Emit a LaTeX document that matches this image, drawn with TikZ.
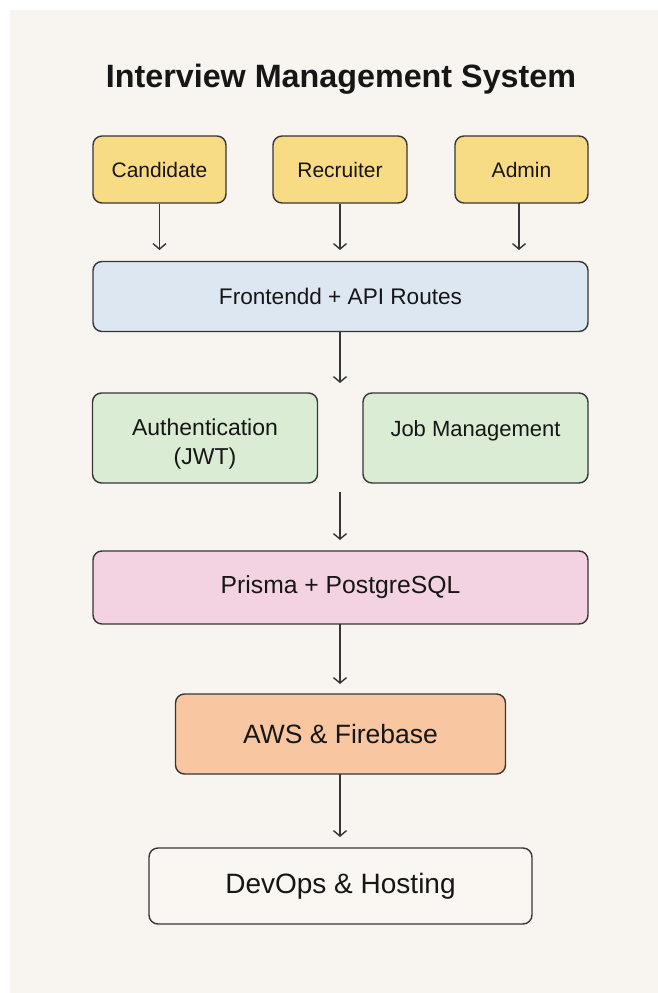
\documentclass[tikz,border=0pt]{standalone}
\usepackage{fontspec}
\setmainfont{Liberation Sans}
\usetikzlibrary{arrows.meta}
\definecolor{bgcream}{HTML}{F8F5F0}
\definecolor{ink}{HTML}{161616}
\definecolor{edge}{HTML}{363636}
\definecolor{fyellow}{HTML}{F8DB85}
\definecolor{fblue}{HTML}{DDE7F2}
\definecolor{fgreen}{HTML}{DAEDD4}
\definecolor{fpink}{HTML}{F3D3E2}
\definecolor{forange}{HTML}{F8C7A2}
\definecolor{fplain}{HTML}{FAF7F2}
\tikzset{
  box/.style={draw=edge, line width=1.4pt, rounded corners=9pt, text=ink, align=center, inner sep=0pt},
  lbl/.style={text=ink, align=center, inner sep=0pt},
  conn/.style={draw=edge, line width=1.4pt, -{Straight Barb[length=5.5pt,width=13pt,line width=1.4pt]}},
}
\begin{document}
\begin{tikzpicture}[x=1pt,y=-1pt]
\useasboundingbox (0,0) rectangle (658,993);
\fill[white] (0,0) rectangle (658,993);
\fill[bgcream] (10,10) rectangle (658,993);

\node[text=ink, font=\fontsize{32.3}{38}\selectfont\bfseries, anchor=base] (title) at (341,87) {Interview Management System};

\node[box, fill=fyellow, minimum width=133pt, minimum height=67pt, font=\fontsize{21}{25}\selectfont] (cand) at (159.5,169.5) {Candidate};
\node[box, fill=fyellow, minimum width=134pt, minimum height=67pt, font=\fontsize{21}{25}\selectfont] (recr) at (340,169.5) {Recruiter};
\node[box, fill=fyellow, minimum width=133pt, minimum height=67pt, font=\fontsize{21}{25}\selectfont] (admin) at (521.5,169.5) {Admin};

\node[box, fill=fblue, minimum width=495pt, minimum height=70pt, font=\fontsize{22.6}{26}\selectfont] (front) at (340.5,296.5) {Frontendd + API Routes};

\node[box, fill=fgreen, minimum width=225pt, minimum height=90pt] (auth) at (205,438) {};
\node[lbl, font=\fontsize{23}{29}\selectfont] (authtxt) at (205,444) {Authentication\\(JWT)};
\node[box, fill=fgreen, minimum width=225pt, minimum height=90pt] (job) at (475.5,438) {};
\node[lbl, font=\fontsize{22}{29}\selectfont, anchor=base] (jobtxt) at (475.5,436.5) {Job Management};

\node[box, fill=fpink, minimum width=495pt, minimum height=73pt, font=\fontsize{24.7}{28}\selectfont] (prisma) at (340.5,587.5) {Prisma + PostgreSQL};

\node[box, fill=forange, minimum width=330pt, minimum height=80pt, font=\fontsize{26.5}{30}\selectfont] (aws) at (340.5,734) {AWS \& Firebase};

\node[box, fill=fplain, minimum width=383pt, minimum height=76pt, font=\fontsize{28}{32}\selectfont] (devops) at (340.5,886) {DevOps \& Hosting};

\coordinate (e1) at (159.5,250);
\coordinate (e2) at (340,250);
\coordinate (s3) at (519,203);
\coordinate (e3) at (519,250);
\coordinate (s4) at (340,332);
\coordinate (e4) at (340,383);
\coordinate (s5) at (340,492);
\coordinate (e5) at (340,540);
\coordinate (s6) at (340,624);
\coordinate (e6) at (340,684);
\coordinate (s7) at (340,774);
\coordinate (e7) at (340,837);

\draw[conn] (cand.south) -- (e1);
\draw[conn] (recr.south) -- (e2);
\draw[conn] (s3) -- (e3);
\draw[conn] (s4) -- (e4);
\draw[conn] (s5) -- (e5);
\draw[conn] (s6) -- (e6);
\draw[conn] (s7) -- (e7);
\end{tikzpicture}
\end{document}
